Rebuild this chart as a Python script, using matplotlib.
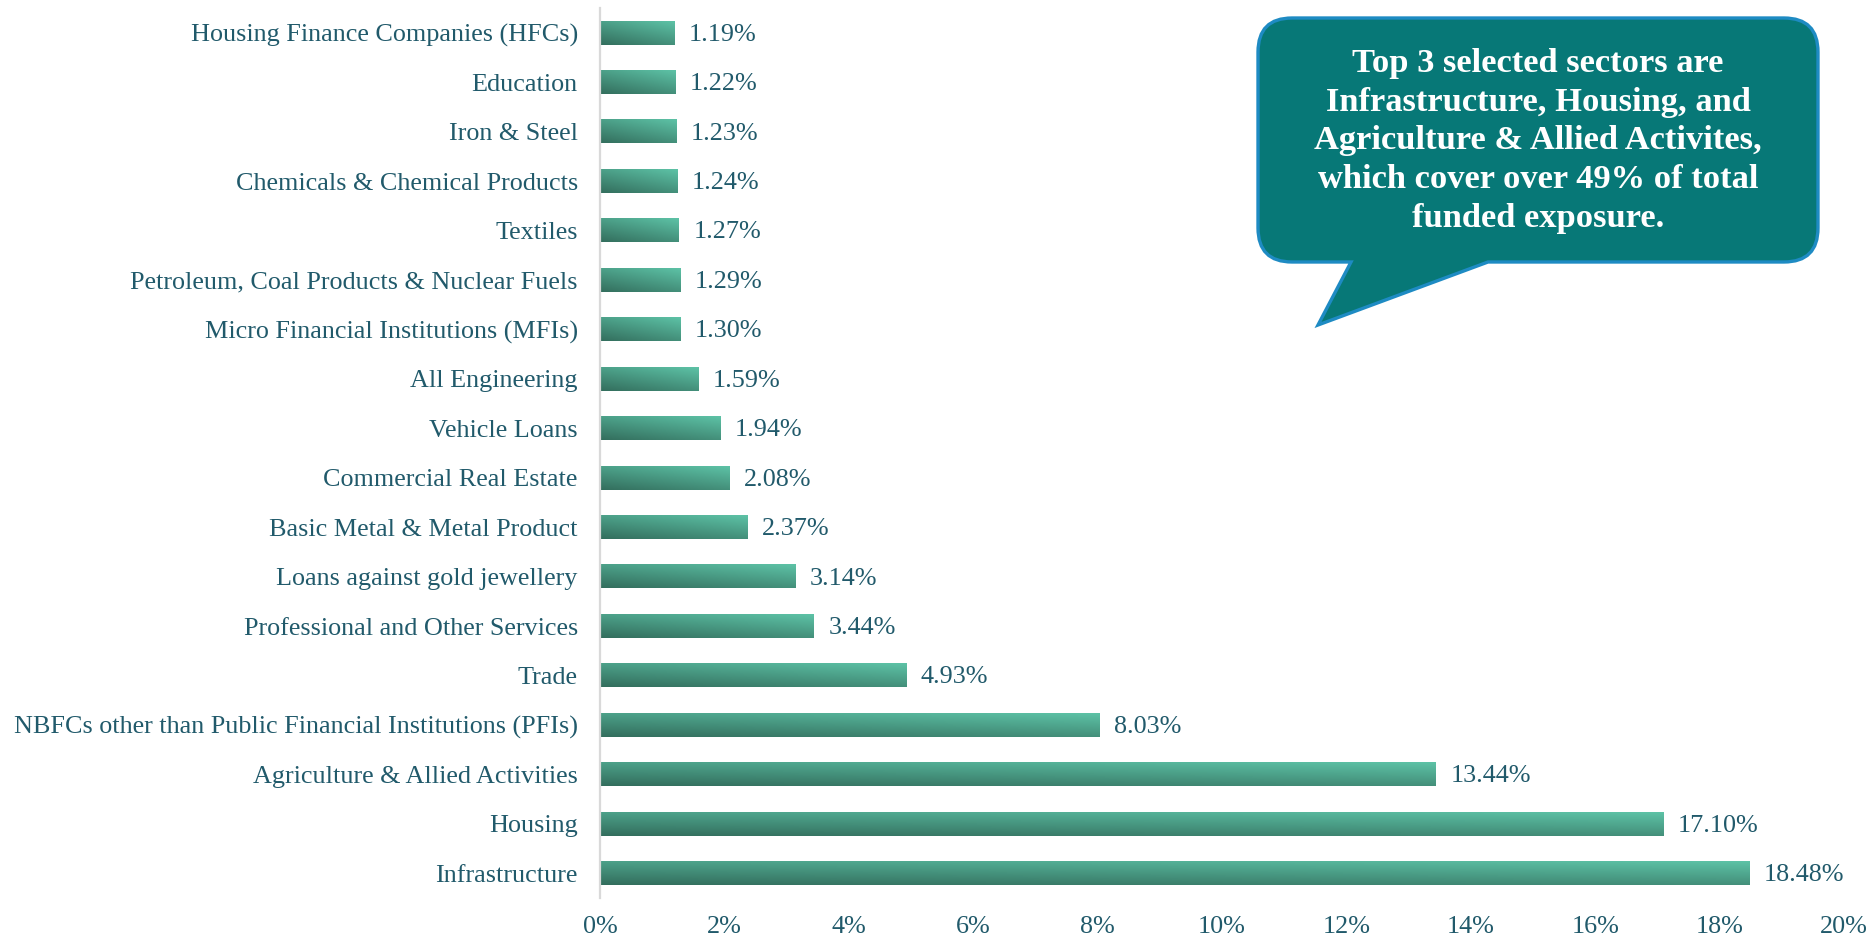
import numpy as np
import matplotlib
matplotlib.use("Agg")
from matplotlib import pyplot as plt
from matplotlib.path import Path
from matplotlib.patches import PathPatch
from matplotlib.colors import LinearSegmentedColormap

sectors = [
    "Housing Finance Companies (HFCs)",
    "Education",
    "Iron & Steel",
    "Chemicals & Chemical Products",
    "Textiles",
    "Petroleum, Coal Products & Nuclear Fuels",
    "Micro Financial Institutions (MFIs)",
    "All Engineering",
    "Vehicle Loans",
    "Commercial Real Estate",
    "Basic Metal & Metal Product",
    "Loans against gold jewellery",
    "Professional and Other Services",
    "Trade",
    "NBFCs other than Public Financial Institutions (PFIs)",
    "Agriculture & Allied Activities",
    "Housing",
    "Infrastructure",
]
share = [1.19, 1.22, 1.23, 1.24, 1.27, 1.29, 1.30, 1.59, 1.94, 2.08,
         2.37, 3.14, 3.44, 4.93, 8.03, 13.44, 17.10, 18.48]
x_ticks = [0, 2, 4, 6, 8, 10, 12, 14, 16, 18, 20]
callout = ("Top 3 selected sectors are\nInfrastructure, Housing, and\n"
           "Agriculture & Allied Activites,\nwhich cover over 49% of total\n"
           "funded exposure.")

TEXT = "#215a6b"
FONT = "Liberation Serif"
W, H = 1867, 940

fig = plt.figure(figsize=(W / 100, H / 100), dpi=100)
ax = fig.add_axes([600 / W, 1 - 898 / H, 1244 / W, 890 / H])

y = np.arange(len(sectors))
bar_h = 0.48
ax.barh(y, share, height=bar_h, color="#4a9b86", zorder=1)

# gradient fill on each bar: dark bottom-left, light top-right
cmap = LinearSegmentedColormap.from_list("bar", ["#336e5d", "#5dc2a6"])
u = np.linspace(0, 1, 200)[None, :]
v = np.linspace(1, 0, 40)[:, None]
grad = 0.4 * u + 0.6 * v
for yi, val in zip(y, share):
    ax.imshow(grad, cmap=cmap, vmin=0, vmax=1, aspect="auto", interpolation="bilinear",
              extent=(0, val, yi + bar_h / 2, yi - bar_h / 2), zorder=2)
    ax.text(val + 0.23, yi + 0.04, f"{val:.2f}%", va="center", ha="left",
            fontsize=18.8, color=TEXT, family=FONT)

ax.set_xlim(0, 20)
ax.set_ylim(len(sectors) - 0.5, -0.5)
ax.set_yticks(y)
ax.set_yticklabels(sectors, fontsize=18.8, color=TEXT, family=FONT)
ax.set_xticks(x_ticks)
ax.set_xticklabels([f"{t}%" for t in x_ticks], fontsize=18.8, color=TEXT, family=FONT)
ax.tick_params(axis="both", length=0)
ax.tick_params(axis="y", pad=16)
ax.tick_params(axis="x", pad=13)
for side in ["top", "right", "bottom"]:
    ax.spines[side].set_visible(False)
ax.spines["left"].set_color("#d9d9d9")
ax.spines["left"].set_linewidth(1.6)
ax.spines["left"].set_zorder(3)

# speech bubble callout (pixel coords, y down)
L, R, T, B, r = 1258, 1818, 18, 262, 34
tail = [(1488, B), (1318, 325), (1351, B)]
pts = [(L + r, T), (R - r, T), (R, T), (R, T + r), (R, B - r), (R, B), (R - r, B),
       tail[0], tail[1], tail[2], (L + r, B), (L, B), (L, B - r), (L, T + r), (L, T),
       (L + r, T)]
codes = [Path.MOVETO, Path.LINETO, Path.CURVE3, Path.CURVE3, Path.LINETO, Path.CURVE3,
         Path.CURVE3, Path.LINETO, Path.LINETO, Path.LINETO, Path.LINETO, Path.CURVE3,
         Path.CURVE3, Path.LINETO, Path.CURVE3, Path.CURVE3]
pts = [(px / W, 1 - py / H) for px, py in pts]
bubble = PathPatch(Path(pts + [pts[0]], codes + [Path.CLOSEPOLY]),
                   facecolor="#077877", edgecolor="#1e8bc3", linewidth=2.4,
                   transform=fig.transFigure, zorder=5)
fig.add_artist(bubble)
fig.text(1538 / W, 1 - 141 / H, callout, ha="center", va="center", color="white",
         fontsize=24.8, fontweight="bold", family=FONT, linespacing=1.32, zorder=6)

fig.savefig("out.png", dpi=100)
